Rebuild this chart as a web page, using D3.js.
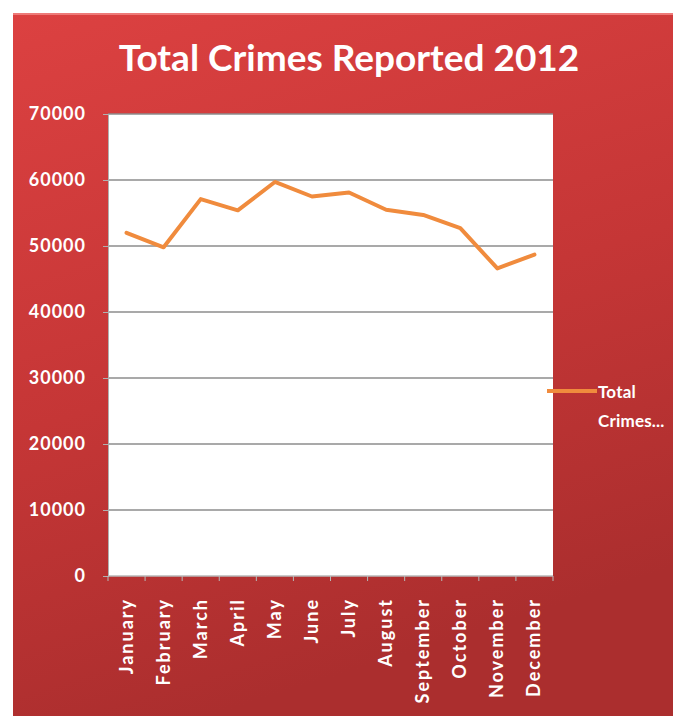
<!DOCTYPE html>
<html>
<head>
<meta charset="utf-8">
<script src="https://cdn.jsdelivr.net/npm/d3@7"></script>
<style>
  body { margin: 0; background: #fff; }
  svg { display: block; }
  .lbl { font-family: Lato, "Open Sans", sans-serif; font-weight: bold; fill: #fff; }
</style>
</head>
<body>
<div id="chart"></div>
<script>
// Data
var months = ["January", "February", "March", "April", "May", "June",
              "July", "August", "September", "October", "November", "December"];
var crimes = [52000, 49800, 57100, 55400, 59700, 57500,
              58100, 55500, 54700, 52700, 46600, 48700];
var yTicks = [0, 10000, 20000, 30000, 40000, 50000, 60000, 70000];
var seriesName = ["Total", "Crimes..."];

var W = 673, H = 717;
var plot = {left: 108, right: 553, top: 114, bottom: 576};

var svg = d3.select("#chart").append("svg")
    .attr("width", W)
    .attr("height", H);

var defs = svg.append("defs");
var grad = defs.append("linearGradient")
    .attr("id", "bg")
    .attr("x1", "0%").attr("y1", "0%")
    .attr("x2", "30%").attr("y2", "100%");
grad.append("stop").attr("offset", "0%").attr("stop-color", "#dc4141");
grad.append("stop").attr("offset", "55%").attr("stop-color", "#c53636");
grad.append("stop").attr("offset", "100%").attr("stop-color", "#ab2e2e");

// red panel
svg.append("rect")
    .attr("x", 13).attr("y", 13)
    .attr("width", W - 13).attr("height", H - 14)
    .style("fill", "url(#bg)");
svg.append("line")
    .attr("x1", 13).attr("x2", W).attr("y1", 14).attr("y2", 14)
    .style("stroke", "#ee7a78").style("stroke-width", 2);

// title
svg.append("text")
    .attr("class", "lbl")
    .attr("x", 349).attr("y", 71)
    .attr("text-anchor", "middle")
    .style("font-size", "37px")
    .text("Total Crimes Reported 2012");

var x = d3.scaleBand()
    .domain(months)
    .range([plot.left, plot.right]);

var y = d3.scaleLinear()
    .domain([0, 70000])
    .range([plot.bottom, plot.top]);

// plot area
svg.append("rect")
    .attr("x", plot.left).attr("y", plot.top)
    .attr("width", plot.right - plot.left)
    .attr("height", plot.bottom - plot.top)
    .style("fill", "#fff");

// gridlines
svg.append("g").selectAll("line")
    .data(yTicks.filter(function(d) { return d > 0; }))
    .enter().append("line")
    .attr("x1", plot.left).attr("x2", plot.right)
    .attr("y1", function(d) { return y(d); })
    .attr("y2", function(d) { return y(d); })
    .style("stroke", "#8c8c8c")
    .style("stroke-width", 1.5);

// y axis
var yAxis = svg.append("g")
    .attr("transform", "translate(" + plot.left + ",0)")
    .call(d3.axisLeft(y).tickValues(yTicks).tickSize(5).tickPadding(17).tickFormat(d3.format("d")));
yAxis.select(".domain").style("stroke", "#b0b0b0");
yAxis.selectAll(".tick line").style("stroke", "#b0b0b0");
yAxis.selectAll("text")
    .attr("class", "lbl")
    .style("font-size", "18px")
    .style("letter-spacing", "1px");

// x axis with ticks between categories
var xAxis = svg.append("g")
    .attr("transform", "translate(0," + plot.bottom + ")");
xAxis.append("line")
    .attr("x1", plot.left).attr("x2", plot.right)
    .style("stroke", "#b8b8b8").style("stroke-width", 1.5);
xAxis.selectAll("line.tk")
    .data(months.concat([null]))
    .enter().append("line")
    .attr("class", "tk")
    .attr("x1", function(d, i) { return plot.left + i * x.step(); })
    .attr("x2", function(d, i) { return plot.left + i * x.step(); })
    .attr("y1", 0).attr("y2", 5)
    .style("stroke", "#b8b8b8");
xAxis.selectAll("text")
    .data(months)
    .enter().append("text")
    .attr("class", "lbl")
    .attr("transform", function(d) {
      return "translate(" + (x(d) + x.bandwidth() / 2 + 6) + ",22) rotate(-90)";
    })
    .attr("text-anchor", "end")
    .style("font-size", "18px")
    .style("letter-spacing", "2px")
    .text(function(d) { return d; });

// series line
var line = d3.line()
    .x(function(d, i) { return x(months[i]) + x.bandwidth() / 2; })
    .y(function(d) { return y(d); });

svg.append("path")
    .datum(crimes)
    .attr("d", line)
    .style("fill", "none")
    .style("stroke", "#f08b3d")
    .style("stroke-width", 4)
    .style("stroke-linejoin", "round")
    .style("stroke-linecap", "round");

// legend
var legend = svg.append("g").attr("transform", "translate(547,391)");
legend.append("line")
    .attr("x1", 0).attr("x2", 50)
    .style("stroke", "#f08b3d").style("stroke-width", 4);
legend.selectAll("text")
    .data(seriesName)
    .enter().append("text")
    .attr("class", "lbl")
    .attr("x", 51)
    .attr("y", function(d, i) { return 7 + i * 29; })
    .style("font-size", "17px")
    .style("letter-spacing", "0.2px")
    .text(function(d) { return d; });
</script>
</body>
</html>
